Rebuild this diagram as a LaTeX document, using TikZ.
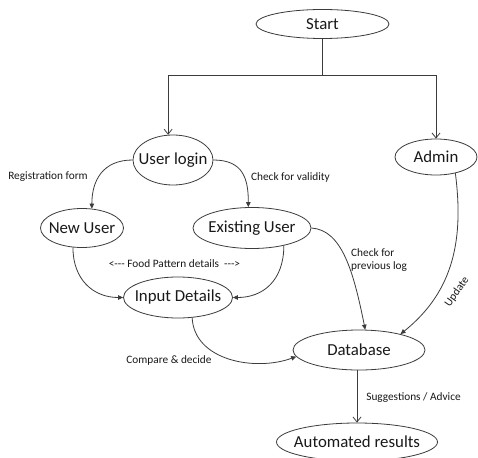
\documentclass[tikz,border=0pt]{standalone}
\usepackage{fontspec}
\setmainfont{Carlito}[Ligatures=TeXOff]
\usetikzlibrary{shapes.geometric,arrows.meta}

\definecolor{linec}{RGB}{60,60,60}
\definecolor{textc}{RGB}{25,25,25}

\tikzset{
  oval/.style 2 args={ellipse, draw=linec, line width=0.8pt, inner sep=0pt,
    minimum width=#1, minimum height=#2, text=textc,
    font=\fontsize{16.8}{20}\selectfont},
  lab/.style={inner sep=0pt, text=textc, font=\fontsize{11.3}{13.5}\selectfont},
  ln/.style={draw=linec, line width=0.8pt},
  va/.style={ln, -{Straight Barb[length=5pt,width=8pt]}},
  fa/.style={ln, -{Triangle[length=5pt,width=4.5pt]}}
}

\begin{document}
\begin{tikzpicture}[x=1pt,y=-1pt]
  % page frame
  \fill[white] (0,0) rectangle (478,457);
  \useasboundingbox (0,0) rectangle (478,457);

  % states
  \node[oval={133pt}{29pt}] (st) at (322.5,24)  {\makebox[0pt]{Start}};
  \node[oval={80pt}{50pt}]  (ul) at (173,160)   {\makebox[0pt]{User login}};
  \node[oval={82pt}{36pt}]  (ad) at (436,157)   {\makebox[0pt]{Admin}};
  \node[oval={83pt}{39pt}]  (nu) at (82,228)    {\makebox[0pt]{New User}};
  \node[oval={118pt}{41pt}] (eu) at (252,228)   {\makebox[0pt]{Existing User}};
  \node[oval={109pt}{41pt}] (id) at (178,297.5) {\makebox[0pt]{Input Details}};
  \node[oval={132pt}{40pt}] (db) at (359,350)   {\makebox[0pt]{Database}};
  \node[oval={161pt}{38pt}] (ar) at (357,442)   {\makebox[0pt]{Automated results}};

  % branching from the start
  \coordinate (j) at (322.5,75);
  \draw[ln] (st.south) -- (j);
  \draw[va] (j) -| (ul.101);
  \draw[va] (j) -| (ad.north);

  % curved transitions
  \draw[fa] (ul.west) .. controls +(-30,0) and +(0,-28) .. (nu.63);
  \draw[fa] (ul.east) .. controls +(30,0) and +(0,-28) .. (eu.100);
  \draw[fa] (nu.245) .. controls +(0,32) and +(-30,0) .. (id.west);
  \draw[fa] (eu.331) .. controls +(0,35) and +(30,0) .. (id.east);
  \draw[fa] (eu.east) .. controls +(30,2) and +(-12,-60) .. (db.73);
  \draw[fa] (ad.320) .. controls +(8,63) and +(55,-44) .. (db.21);
  \draw[fa] (id.305) .. controls +(2,43) and +(-41,15) .. (db.186);
  \draw[va] (db.south -| ar.north) -- (ar.north);

  % edge labels
  \node[lab] (l1) at (48,177)    {Registration form};
  \node[lab] (l2) at (290.5,177) {Check for validity};
  \node[lab] (l3) at (174.5,264) {<--- Food Pattern details\ \ --->};
  \node[lab, anchor=west, align=left] (l4) at (351,260) {Check for\\previous log};
  \node[lab, rotate=55] (l5) at (457,292) {Update};
  \node[lab] (l6) at (169,360)   {Compare \& decide};
  \node[lab] (l7) at (413.5,398) {Suggestions / Advice};
\end{tikzpicture}
\end{document}
